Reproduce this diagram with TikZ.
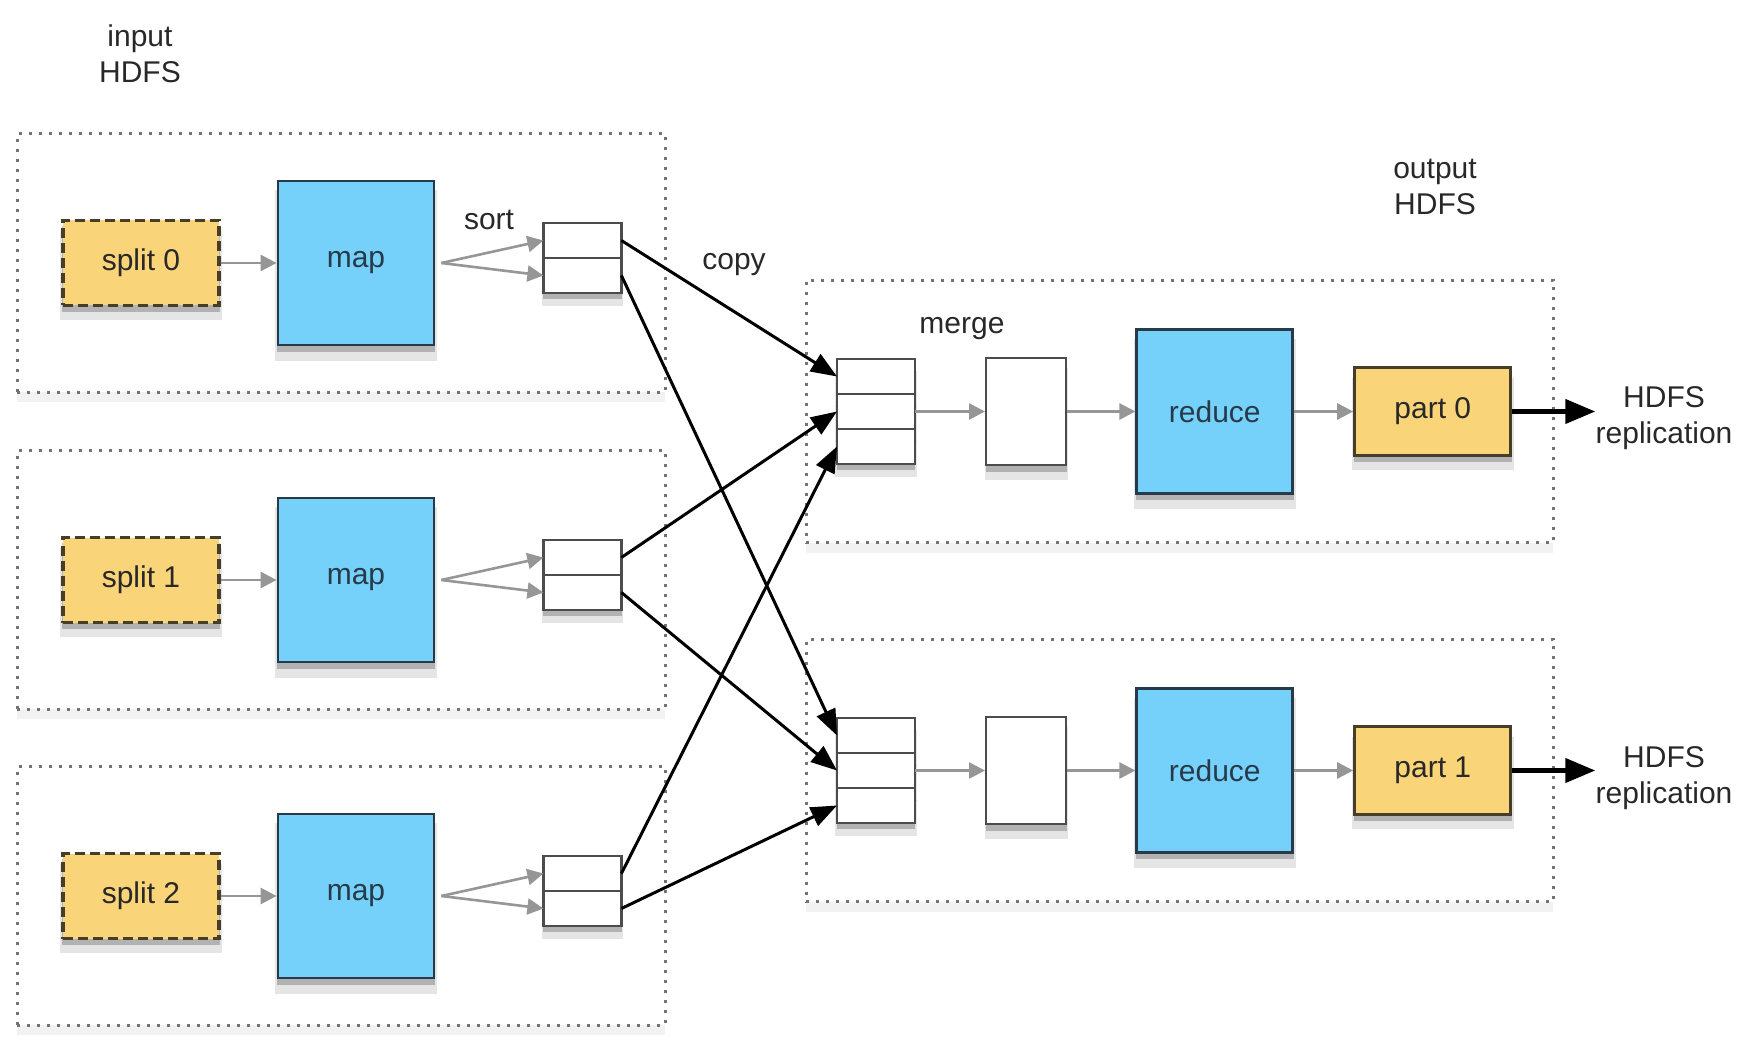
\documentclass[tikz,border=0pt]{standalone}
\usepackage{fontspec}
\setmainfont{Liberation Sans}
\usetikzlibrary{positioning,fit,shadows,backgrounds,arrows.meta}
\definecolor{mapblue}{RGB}{117,209,249}
\definecolor{mapedge}{RGB}{38,58,74}
\definecolor{partyellow}{RGB}{250,212,120}
\definecolor{partedge}{RGB}{70,62,40}
\definecolor{flowgray}{RGB}{150,150,150}
\definecolor{txtgray}{RGB}{40,40,40}
\tikzset{
  boxshadow/.style={drop shadow={shadow xshift=0pt, shadow yshift=-3pt, shadow scale=1.01, fill=black, opacity=0.22},
    drop shadow={shadow xshift=0pt, shadow yshift=-6pt, shadow scale=1.04, fill=black, opacity=0.1}},
  mapbox/.style={rectangle, draw=mapedge, line width=1.4pt, fill=mapblue, minimum width=78pt, minimum height=82pt, text=mapedge, boxshadow},
  splitbox/.style={rectangle, draw=partedge, line width=1.6pt, dash pattern=on 5pt off 2.5pt, fill=partyellow, minimum width=78pt, minimum height=42.5pt, text=txtgray, boxshadow},
  partbox/.style={rectangle, draw=partedge, line width=1.6pt, fill=partyellow, minimum width=78pt, minimum height=44pt, text=txtgray, boxshadow},
  cellbox/.style={rectangle, draw=black!70, line width=1.2pt, fill=white, minimum width=39pt, minimum height=17.5pt, inner sep=0pt, outer sep=0pt, boxshadow},
  mergebox/.style={rectangle, draw=black!70, line width=1.2pt, fill=white, minimum width=40pt, minimum height=53.5pt, boxshadow},
  groupbox/.style={rectangle, draw=black!55, line width=1.5pt, dash pattern=on 1.5pt off 3.5pt, fill=white, drop shadow={shadow xshift=0pt, shadow yshift=-5pt, fill=black, opacity=0.05}},
  flow/.style={-{Triangle[length=8pt,width=8pt]}, draw=flowgray, line width=1.3pt},
  copyarrow/.style={-{Triangle[length=13pt,width=10pt]}, line width=1.5pt},
  outarrow/.style={-{Triangle[length=15pt,width=12pt]}, line width=2.2pt},
  caption/.style={text=txtgray, align=center, inner sep=0pt}
}
\begin{document}
\begin{tikzpicture}[x=0.5pt, y=-0.5pt, font=\fontsize{15}{18}\selectfont]
\useasboundingbox (0,0) rectangle (1760,1042);
% map side
\node[splitbox] (split0) at (141,263) {split 0};
\node[mapbox, right=28pt of split0] (map0) {map};
\node[cellbox, anchor=north west] at ([xshift=54pt,yshift=20pt]map0.east) (b0a) {};
\node[cellbox, below=0pt of b0a] (b0b) {};
\node[splitbox] (split1) at (141,580) {split 1};
\node[mapbox, right=28pt of split1] (map1) {map};
\node[cellbox, anchor=north west] at ([xshift=54pt,yshift=20pt]map1.east) (b1a) {};
\node[cellbox, below=0pt of b1a] (b1b) {};
\node[splitbox] (split2) at (141,896) {split 2};
\node[mapbox, right=28pt of split2] (map2) {map};
\node[cellbox, anchor=north west] at ([xshift=54pt,yshift=20pt]map2.east) (b2a) {};
\node[cellbox, below=0pt of b2a] (b2b) {};
% reduce side
\node[cellbox, anchor=north west] at (837,359) (m0a) {};
\node[cellbox, below=0pt of m0a] (m0b) {};
\node[cellbox, below=0pt of m0b] (m0c) {};
\node[mergebox, right=35pt of m0b] (mb0) {};
\node[mapbox, right=34pt of mb0] (r0) {reduce};
\node[partbox, right=29.5pt of r0] (p0) {part 0};
\node[cellbox, anchor=north west] at (837,718) (m1a) {};
\node[cellbox, below=0pt of m1a] (m1b) {};
\node[cellbox, below=0pt of m1b] (m1c) {};
\node[mergebox, right=35pt of m1b] (mb1) {};
\node[mapbox, right=34pt of mb1] (r1) {reduce};
\node[partbox, right=29.5pt of r1] (p1) {part 1};
% dotted groups
\begin{scope}[on background layer]
\node[groupbox, fit=(split0)(map0)(b0a), inner xsep=22pt, inner ysep=23pt] (g0) {};
\node[groupbox, fit=(split1)(map1)(b1a), inner xsep=22pt, inner ysep=23pt] (g1) {};
\node[groupbox, fit=(split2)(map2)(b2a), inner xsep=22pt, inner ysep=23pt] (g2) {};
\node[groupbox, fit=(m0a)(r0)(p0), inner xsep=18pt, inner ysep=24pt, xshift=2.5pt] (h0) {};
\node[groupbox, fit=(m1a)(r1)(p1), inner xsep=18pt, inner ysep=24pt, xshift=2.5pt] (h1) {};
\end{scope}
% labels
\node[caption] (inlbl) at (140,54) {input\\HDFS};
\node[caption] (outlbl) at (1435,187) {output\\HDFS};
\node[caption] (sortlbl) at (489,220) {sort};
\node[caption] (copylbl) at (734,265) {copy};
\node[caption] (mergelbl) at (962,329) {merge};
\node[caption] (hdfs0) at (1664,418) {HDFS\\replication};
\node[caption] (hdfs1) at (1664,778) {HDFS\\replication};
% gray flows
\draw[flow] (split0) -- (map0);
\draw[flow] ([xshift=3pt]map0.east) -- (b0a.west);
\draw[flow] ([xshift=3pt]map0.east) -- (b0b.west);
\draw[flow] (split1) -- (map1);
\draw[flow] ([xshift=3pt]map1.east) -- (b1a.west);
\draw[flow] ([xshift=3pt]map1.east) -- (b1b.west);
\draw[flow] (split2) -- (map2);
\draw[flow] ([xshift=3pt]map2.east) -- (b2a.west);
\draw[flow] ([xshift=3pt]map2.east) -- (b2b.west);
\draw[flow] (m0b) -- (mb0);
\draw[flow] (mb0) -- (r0);
\draw[flow] (r0) -- (p0);
\draw[flow] (m1b) -- (mb1);
\draw[flow] (mb1) -- (r1);
\draw[flow] (r1) -- (p1);
% copy
\draw[copyarrow] (b0a.east) -- (m0a.west);
\draw[copyarrow] (b1a.east) -- (m0b.west);
\draw[copyarrow] (b2a.east) -- (m0c.west);
\draw[copyarrow] (b0b.east) -- (m1a.west);
\draw[copyarrow] (b1b.east) -- (m1b.west);
\draw[copyarrow] (b2b.east) -- (m1c.west);
% output
\draw[outarrow] (p0.east) -- (p0.east -| hdfs0.west);
\draw[outarrow] (p1.east) -- (p1.east -| hdfs1.west);
\end{tikzpicture}
\end{document}
